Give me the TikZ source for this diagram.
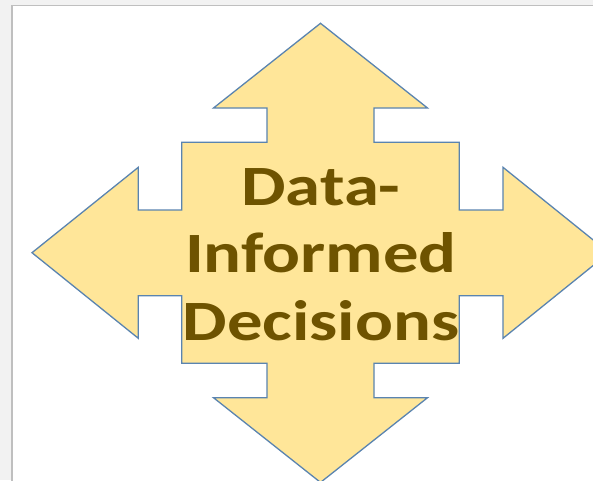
\documentclass[tikz,border=0pt]{standalone}
\usepackage{fontspec}
\setmainfont{Carlito}
\usepackage{tikz}
\definecolor{arrowFill}{HTML}{FFE699}
\definecolor{arrowEdge}{HTML}{5A84B0}
\definecolor{labelText}{HTML}{6E5300}
\definecolor{pageGray}{HTML}{F2F2F2}
\definecolor{frameGray}{HTML}{BFBFBF}

\begin{document}
\begin{tikzpicture}[
  x=1pt,
  y=-1pt,
  quad arrow/.style={
    draw=arrowEdge,
    line width=1.3pt,
    fill=arrowFill,
    line join=miter,
  },
  arrow label/.style={
    text=labelText,
    font=\bfseries\fontsize{57}{67.5}\selectfont,
    align=center,
    inner sep=0pt,
    xscale=1.24,
    transform shape,
  },
]
\useasboundingbox (0,0) rectangle (593,480);
\clip (0,0) rectangle (593,480);
\fill[pageGray] (0,0) rectangle (593,480);
\fill[white] (11,5) rectangle (600,490);
\draw[frameGray,line width=2pt] (12,490) -- (12,5);
\draw[frameGray,line width=1.2pt] (11,5.5) -- (600,5.5);
\draw[quad arrow]
  (320.5,23.3) -- (427.5,108) -- (374,108) -- (374,142.3)
  -- (459.3,142.3) -- (459.3,210) -- (503,210) -- (503,167.3)
  -- (609,252.7) -- (503,338.3) -- (503,295.7) -- (459.3,295.7)
  -- (459.3,363.3) -- (374,363.3) -- (374,397.7) -- (427.5,397.7)
  -- (320.5,482.4) -- (213.5,397.7) -- (267,397.7) -- (267,363.3)
  -- (181.7,363.3) -- (181.7,295.7) -- (138.3,295.7) -- (138.3,338.3)
  -- (32,252.7) -- (138.3,167.3) -- (138.3,210) -- (181.7,210)
  -- (181.7,142.3) -- (267,142.3) -- (267,108) -- (213.5,108) -- cycle;
\node[arrow label] (decisions) at (321,254.5) {Data-\\Informed\\Decisions};
\end{tikzpicture}
\end{document}
